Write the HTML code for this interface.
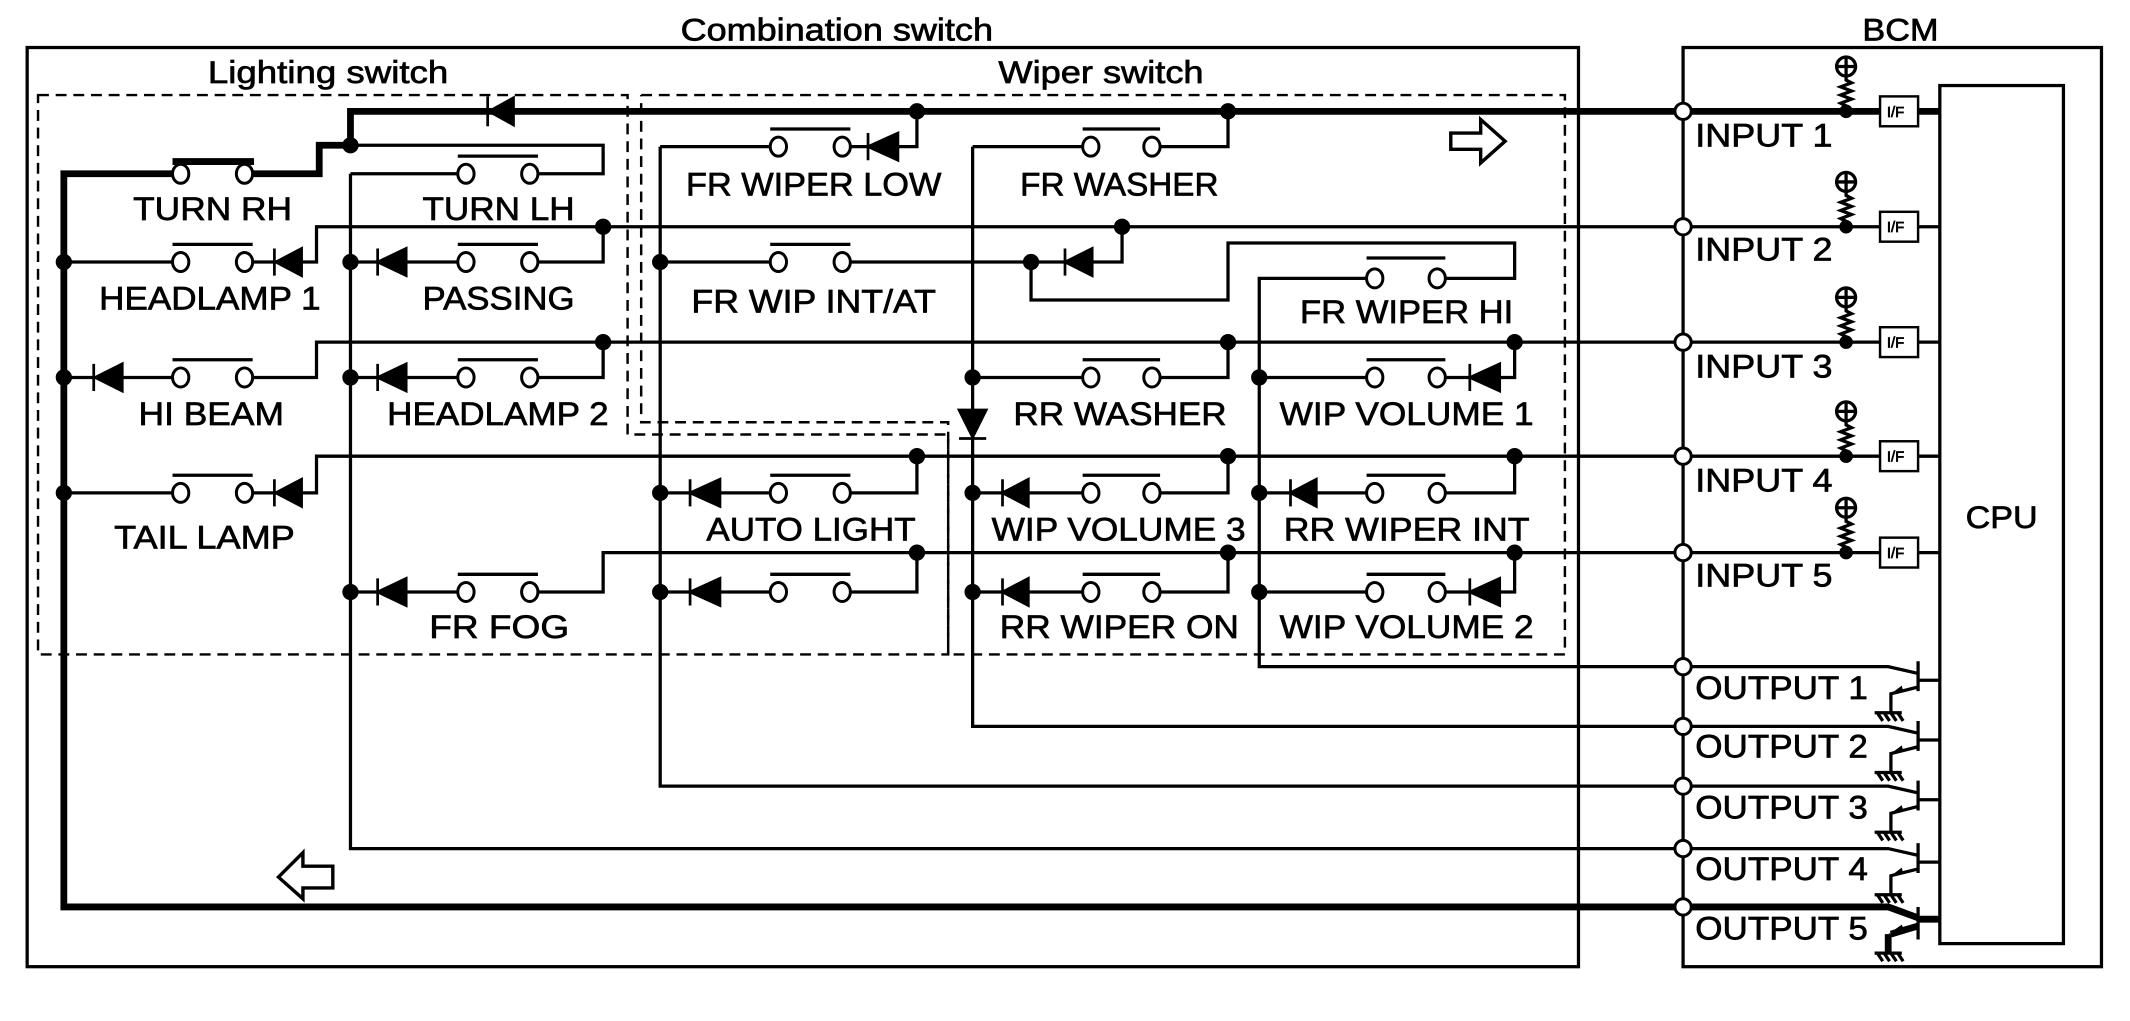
<!DOCTYPE html>
<html><head><meta charset="utf-8"><style>
html,body{margin:0;padding:0;background:#fff}
svg{display:block}
text{font-family:"Liberation Sans",Arial,sans-serif;fill:#000;stroke:#000;stroke-width:0.5}
</style></head><body>
<svg width="2130" height="1021" viewBox="0 0 1568 752" preserveAspectRatio="none" xmlns="http://www.w3.org/2000/svg">
<g fill="none" stroke="#000" stroke-width="2.4">
<rect x="20" y="35" width="1142" height="677"/>
<rect x="1239" y="35" width="308" height="677"/>
<rect x="1428" y="63" width="91" height="632"/>
<g stroke-dasharray="8,5" stroke-width="1.8">
<path d="M28,70 H462 V320 H698 V482 H28 Z"/>
<path d="M472,70 H1152 V482 H698 M698,482 V311 H472 V70"/>
</g>
<g stroke-width="5">
<path d="M1239,82 H258 V107 H235 V128 H186"/>
<path d="M127,119 H187"/>
<path d="M127,128 H47 V668 H1390 L1412,676"/>
<path d="M1239,82 H1384 M1412,82 H1428"/>
<path d="M1412,677 H1428"/>
<path d="M1412,682 L1392,688 M1390,688 V702"/>
</g>
<path d="M258,107 H444 V128 H396 M337,128 H258 M258,128 V625 H1239"/>
<path d="M1239,167 H233 V193 H222 M203,193 H186 M127,193 H47"/>
<path d="M444,167 V193 H396 M337,193 H299 M278,193 H258"/>
<path d="M1239,252 H233 V278 H186 M127,278 H90 M70,278 H47"/>
<path d="M444,252 V278 H396 M337,278 H299 M278,278 H258"/>
<path d="M1239,336 H233 V363 H222 M203,363 H186 M127,363 H47"/>
<path d="M675,336 V363 H626 M567,363 H530 M508,363 H486"/>
<path d="M1239,407 H444 V436 H396 M337,436 H299 M278,436 H258"/>
<path d="M675,407 V436 H626 M567,436 H530 M508,436 H486"/>
<path d="M486,108 V579 H1239"/>
<path d="M486,108 H567 M626,108 H639 M661,108 H675 V82"/>
<path d="M716,108 H797 M854,108 H904 V82 M716,108 V535 H1239"/>
<path d="M486,193 H567 M626,193 H784 M804,193 H826 V167"/>
<path d="M759,193 V221 H904 V179 H1115 V205 H1064 M1006,205 H927 V491 H1239"/>
<path d="M716,278 H797 M854,278 H904 V252"/>
<path d="M927,278 H1006 M1064,278 H1082 M1104,278 H1115 V252"/>
<path d="M716,363 H738 M757,363 H797 M854,363 H904 V336"/>
<path d="M927,363 H950 M969,363 H1006 M1064,363 H1115 V336"/>
<path d="M716,436 H738 M757,436 H797 M854,436 H904 V407"/>
<path d="M927,436 H1006 M1064,436 H1082 M1104,436 H1115 V407"/>
<path d="M337,115 H396 M127,180 H186 M337,180 H396 M127,265 H186 M337,265 H396 M127,350 H186 M567,350 H626 M337,423 H396 M567,423 H626
M567,95 H626 M797,95 H854 M567,180 H626 M1006,190 H1064 M797,265 H854 M1006,265 H1064 M797,350 H854 M1006,350 H1064 M797,423 H854 M1006,423 H1064"/>
<path d="M1239,167 H1384 M1412,167 H1428 M1239,252 H1384 M1412,252 H1428 M1239,336 H1384 M1412,336 H1428 M1239,407 H1384 M1412,407 H1428"/>
<g stroke-width="1.8">
<rect x="1384" y="71" width="28" height="22"/><rect x="1384" y="156" width="28" height="22"/><rect x="1384" y="241" width="28" height="22"/><rect x="1384" y="325" width="28" height="22"/><rect x="1384" y="396" width="28" height="22"/>
</g>
<g id="pu">
<path d="M1359,82 L1359,78 L1355,76 L1363,73 L1355,70 L1363,67 L1355,64 L1363,61 L1359,59 V56"/>
<circle cx="1359" cy="49" r="7"/><path d="M1352,49 H1366 M1359,42 V56"/>
</g>
<use href="#pu" y="85"/><use href="#pu" y="170"/><use href="#pu" y="254"/><use href="#pu" y="325"/>
<g id="tr">
<path d="M1239,491 H1390 L1412,496 M1412,487 V509 M1412,501 H1428 M1412,506 L1392,511 V525 M1380,525 H1400 M1382,525 l4,6 M1387,525 l4,6 M1392,525 l4,6 M1397,525 l4,6"/>
</g>
<use href="#tr" y="44"/><use href="#tr" y="88"/><use href="#tr" y="134"/>
<path d="M1412,668 V692 M1380,702 H1400 M1382,702 l4,6 M1387,702 l4,6 M1392,702 l4,6 M1397,702 l4,6"/>
<path d="M1068,98 H1090 V88 L1108,104 L1090,120 V110 H1068 Z" stroke-width="2.5"/>
<path d="M245,638 H223 V628 L205,646 L223,662 V654 H245 Z" stroke-width="2.5"/>
</g>
<g fill="#000">
<path d="M1392,511 l8,-6 l1,4 z"/><path d="M1392,555 l8,-6 l1,4 z"/><path d="M1392,599 l8,-6 l1,4 z"/><path d="M1392,645 l8,-6 l1,4 z"/><path d="M1390,688 l10,-7 l2,5 z"/>
</g>
<g fill="#fff" stroke="#000" stroke-width="2.2">
<ellipse cx="133" cy="128" rx="6" ry="7"/><ellipse cx="180" cy="128" rx="6" ry="7"/>
<ellipse cx="343" cy="128" rx="6" ry="7"/><ellipse cx="390" cy="128" rx="6" ry="7"/>
<ellipse cx="133" cy="193" rx="6" ry="7"/><ellipse cx="180" cy="193" rx="6" ry="7"/>
<ellipse cx="343" cy="193" rx="6" ry="7"/><ellipse cx="390" cy="193" rx="6" ry="7"/>
<ellipse cx="133" cy="278" rx="6" ry="7"/><ellipse cx="180" cy="278" rx="6" ry="7"/>
<ellipse cx="343" cy="278" rx="6" ry="7"/><ellipse cx="390" cy="278" rx="6" ry="7"/>
<ellipse cx="133" cy="363" rx="6" ry="7"/><ellipse cx="180" cy="363" rx="6" ry="7"/>
<ellipse cx="573" cy="363" rx="6" ry="7"/><ellipse cx="620" cy="363" rx="6" ry="7"/>
<ellipse cx="343" cy="436" rx="6" ry="7"/><ellipse cx="390" cy="436" rx="6" ry="7"/>
<ellipse cx="573" cy="436" rx="6" ry="7"/><ellipse cx="620" cy="436" rx="6" ry="7"/>
<ellipse cx="573" cy="108" rx="6" ry="7"/><ellipse cx="620" cy="108" rx="6" ry="7"/>
<ellipse cx="803" cy="108" rx="6" ry="7"/><ellipse cx="848" cy="108" rx="6" ry="7"/>
<ellipse cx="573" cy="193" rx="6" ry="7"/><ellipse cx="620" cy="193" rx="6" ry="7"/>
<ellipse cx="1012" cy="205" rx="6" ry="7"/><ellipse cx="1058" cy="205" rx="6" ry="7"/>
<ellipse cx="803" cy="278" rx="6" ry="7"/><ellipse cx="848" cy="278" rx="6" ry="7"/>
<ellipse cx="1012" cy="278" rx="6" ry="7"/><ellipse cx="1058" cy="278" rx="6" ry="7"/>
<ellipse cx="803" cy="363" rx="6" ry="7"/><ellipse cx="848" cy="363" rx="6" ry="7"/>
<ellipse cx="1012" cy="363" rx="6" ry="7"/><ellipse cx="1058" cy="363" rx="6" ry="7"/>
<ellipse cx="803" cy="436" rx="6" ry="7"/><ellipse cx="848" cy="436" rx="6" ry="7"/>
<ellipse cx="1012" cy="436" rx="6" ry="7"/><ellipse cx="1058" cy="436" rx="6" ry="7"/>
<circle cx="1239" cy="82" r="6"/><circle cx="1239" cy="167" r="6"/><circle cx="1239" cy="252" r="6"/><circle cx="1239" cy="336" r="6"/><circle cx="1239" cy="407" r="6"/>
<circle cx="1239" cy="491" r="6"/><circle cx="1239" cy="535" r="6"/><circle cx="1239" cy="579" r="6"/><circle cx="1239" cy="625" r="6"/><circle cx="1239" cy="668" r="6"/>
</g>
<g fill="#000" stroke="#000" stroke-width="2">
<path d="M360,82 L378,72 L378,92 Z M359,71 V93"/>
<path d="M203,193 L222,183 L222,203 Z M202,183 V203"/>
<path d="M278,193 L299,183 L299,203 Z M278,183 V203"/>
<path d="M70,278 L90,268 L90,288 Z M69,268 V288"/>
<path d="M278,278 L299,268 L299,288 Z M278,268 V288"/>
<path d="M203,363 L222,353 L222,373 Z M202,353 V373"/>
<path d="M508,363 L530,353 L530,373 Z M508,353 V373"/>
<path d="M278,436 L299,426 L299,446 Z M278,426 V446"/>
<path d="M508,436 L530,426 L530,446 Z M508,426 V446"/>
<path d="M639,108 L661,98 L661,118 Z M639,98 V118"/>
<path d="M784,193 L804,183 L804,203 Z M784,183 V203"/>
<path d="M1082,278 L1104,268 L1104,288 Z M1082,268 V288"/>
<path d="M738,363 L757,353 L757,373 Z M738,353 V373"/>
<path d="M950,363 L969,353 L969,373 Z M950,353 V373"/>
<path d="M738,436 L757,426 L757,446 Z M738,426 V446"/>
<path d="M1082,436 L1104,426 L1104,446 Z M1082,426 V446"/>
<path d="M706,302 L726,302 L716,322 Z M706,323 H726"/>
</g>
<g fill="#000">
<circle cx="258" cy="107" r="6"/><circle cx="444" cy="167" r="6"/><circle cx="444" cy="252" r="6"/>
<circle cx="47" cy="193" r="6"/><circle cx="47" cy="278" r="6"/><circle cx="47" cy="363" r="6"/>
<circle cx="258" cy="193" r="6"/><circle cx="258" cy="278" r="6"/><circle cx="258" cy="436" r="6"/>
<circle cx="486" cy="193" r="6"/><circle cx="486" cy="363" r="6"/><circle cx="486" cy="436" r="6"/>
<circle cx="675" cy="82" r="6"/><circle cx="904" cy="82" r="6"/><circle cx="826" cy="167" r="6"/><circle cx="759" cy="193" r="6"/>
<circle cx="904" cy="252" r="6"/><circle cx="1115" cy="252" r="6"/><circle cx="716" cy="278" r="6"/><circle cx="927" cy="278" r="6"/>
<circle cx="675" cy="336" r="6"/><circle cx="904" cy="336" r="6"/><circle cx="1115" cy="336" r="6"/><circle cx="716" cy="363" r="6"/><circle cx="927" cy="363" r="6"/>
<circle cx="675" cy="407" r="6"/><circle cx="904" cy="407" r="6"/><circle cx="1115" cy="407" r="6"/><circle cx="716" cy="436" r="6"/><circle cx="927" cy="436" r="6"/>
<circle cx="1359" cy="82" r="5"/><circle cx="1359" cy="167" r="5"/><circle cx="1359" cy="252" r="5"/><circle cx="1359" cy="336" r="5"/><circle cx="1359" cy="407" r="5"/>
</g>
<g font-size="23">
<text x="501" y="30" textLength="230" lengthAdjust="spacingAndGlyphs">Combination switch</text>
<text x="153" y="61" textLength="177" lengthAdjust="spacingAndGlyphs">Lighting switch</text>
<text x="735" y="61" textLength="151" lengthAdjust="spacingAndGlyphs">Wiper switch</text>
<text x="1371" y="30" textLength="56" lengthAdjust="spacingAndGlyphs">BCM</text>
<text x="1447" y="389" textLength="53" lengthAdjust="spacingAndGlyphs">CPU</text>
</g>
<g font-size="24">
<text x="98" y="162" textLength="117" lengthAdjust="spacingAndGlyphs">TURN RH</text>
<text x="311" y="162" textLength="112" lengthAdjust="spacingAndGlyphs">TURN LH</text>
<text x="73" y="228" textLength="163" lengthAdjust="spacingAndGlyphs">HEADLAMP 1</text>
<text x="311" y="228" textLength="112" lengthAdjust="spacingAndGlyphs">PASSING</text>
<text x="102" y="313" textLength="107" lengthAdjust="spacingAndGlyphs">HI BEAM</text>
<text x="285" y="313" textLength="163" lengthAdjust="spacingAndGlyphs">HEADLAMP 2</text>
<text x="84" y="404" textLength="133" lengthAdjust="spacingAndGlyphs">TAIL LAMP</text>
<text x="316" y="470" textLength="103" lengthAdjust="spacingAndGlyphs">FR FOG</text>
<text x="520" y="398" textLength="154" lengthAdjust="spacingAndGlyphs">AUTO LIGHT</text>
<text x="505" y="144" textLength="188" lengthAdjust="spacingAndGlyphs">FR WIPER LOW</text>
<text x="751" y="144" textLength="146" lengthAdjust="spacingAndGlyphs">FR WASHER</text>
<text x="509" y="230" textLength="180" lengthAdjust="spacingAndGlyphs">FR WIP INT/AT</text>
<text x="957" y="238" textLength="157" lengthAdjust="spacingAndGlyphs">FR WIPER HI</text>
<text x="746" y="313" textLength="157" lengthAdjust="spacingAndGlyphs">RR WASHER</text>
<text x="942" y="313" textLength="187" lengthAdjust="spacingAndGlyphs">WIP VOLUME 1</text>
<text x="730" y="398" textLength="187" lengthAdjust="spacingAndGlyphs">WIP VOLUME 3</text>
<text x="945" y="398" textLength="181" lengthAdjust="spacingAndGlyphs">RR WIPER INT</text>
<text x="736" y="470" textLength="176" lengthAdjust="spacingAndGlyphs">RR WIPER ON</text>
<text x="942" y="470" textLength="187" lengthAdjust="spacingAndGlyphs">WIP VOLUME 2</text>
<text x="1248" y="108" textLength="101" lengthAdjust="spacingAndGlyphs">INPUT 1</text>
<text x="1248" y="192" textLength="101" lengthAdjust="spacingAndGlyphs">INPUT 2</text>
<text x="1248" y="278" textLength="101" lengthAdjust="spacingAndGlyphs">INPUT 3</text>
<text x="1248" y="362" textLength="101" lengthAdjust="spacingAndGlyphs">INPUT 4</text>
<text x="1248" y="432" textLength="101" lengthAdjust="spacingAndGlyphs">INPUT 5</text>
<text x="1248" y="515" textLength="127" lengthAdjust="spacingAndGlyphs">OUTPUT 1</text>
<text x="1248" y="558" textLength="127" lengthAdjust="spacingAndGlyphs">OUTPUT 2</text>
<text x="1248" y="603" textLength="127" lengthAdjust="spacingAndGlyphs">OUTPUT 3</text>
<text x="1248" y="648" textLength="127" lengthAdjust="spacingAndGlyphs">OUTPUT 4</text>
<text x="1248" y="692" textLength="127" lengthAdjust="spacingAndGlyphs">OUTPUT 5</text>
</g>
<g font-size="11">
<text x="1389" y="86" stroke-width="0.2">I/F</text><text x="1389" y="171" stroke-width="0.2">I/F</text><text x="1389" y="256" stroke-width="0.2">I/F</text><text x="1389" y="340" stroke-width="0.2">I/F</text><text x="1389" y="411" stroke-width="0.2">I/F</text>
</g>
</svg>
</body></html>
